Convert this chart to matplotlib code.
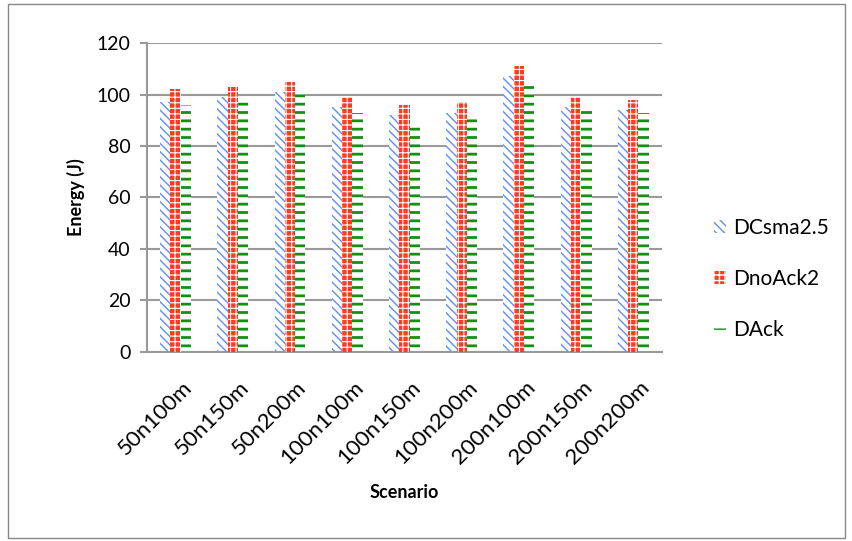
import matplotlib.pyplot as plt
import numpy as np
from matplotlib.patches import Rectangle
from matplotlib.transforms import ScaledTranslation

scenarios = ["50n100m", "50n150m", "50n200m", "100n100m", "100n150m",
             "100n200m", "200n100m", "200n150m", "200n200m"]
dcsma = [97, 99, 101, 95, 92, 93, 107, 95, 94]
dnoack = [102, 103, 105, 99, 96, 97, 111, 99, 98]
dack = [96, 97, 100.5, 93, 89, 92, 105, 94, 93]

plt.rcParams['font.family'] = ['Lato', 'DejaVu Sans']

fig = plt.figure(figsize=(8.53, 5.41), dpi=100)
ax = fig.add_axes([0.1723, 0.3494, 0.6037, 0.5711])

x = np.arange(len(scenarios))
w = 0.18
with plt.rc_context({'hatch.linewidth': 1.0}):
    ax.bar(x - w, dcsma, w, facecolor="white", edgecolor="#5b8ff0", hatch="\\\\\\\\",
           linewidth=0, label="DCsma2.5", zorder=2)
with plt.rc_context({'hatch.linewidth': 2.0}):
    ax.bar(x + w, dack, w, facecolor="white", edgecolor="#139013", hatch="--",
           linewidth=0, label="DAck", zorder=2)
with plt.rc_context({'hatch.linewidth': 0.8}):
    ax.bar(x, dnoack, w, facecolor="#ff3a22", edgecolor="white", hatch="+++",
           linewidth=0, label="DnoAck2", zorder=3)

ax.set_xlim(-0.5, len(scenarios) - 0.5)
ax.set_ylim(0, 120)
ax.set_yticks(range(0, 121, 20))
ax.grid(axis="y", color="#999999", linewidth=1.5, zorder=0)
ax.set_axisbelow(True)
for s in ["top", "right"]:
    ax.spines[s].set_visible(False)
for s in ["left", "bottom"]:
    ax.spines[s].set_color("#999999")
    ax.spines[s].set_linewidth(1.5)
ax.tick_params(axis="x", length=0, pad=18)
ax.tick_params(axis="y", length=5, width=1.5, color="#999999", labelsize=14, pad=7)
ax.set_xticks(x)
ax.set_xticklabels(scenarios, rotation=45, ha="right", va="top",
                   rotation_mode="anchor", fontsize=16)
for lab in ax.get_xticklabels():
    lab.set_transform(lab.get_transform() + ScaledTranslation(0.06, 0, fig.dpi_scale_trans))
ax.set_ylabel("Energy (J)", fontsize=13, fontweight="bold", labelpad=8)
ax.set_xlabel("Scenario", fontsize=13, fontweight="bold", labelpad=12)

h, l = ax.get_legend_handles_labels()
order = [0, 2, 1]
fig.legend([h[i] for i in order], [l[i] for i in order],
           loc="center left", bbox_to_anchor=(0.815, 0.484), frameon=False,
           fontsize=15, handlelength=0.6, handleheight=0.6, labelspacing=1.5,
           handletextpad=0.3)

fig.patches.append(Rectangle((0.009, 0.006), 0.982, 0.986, transform=fig.transFigure,
                             fill=False, edgecolor="#888888", linewidth=1))

fig.savefig("out.png", dpi=100)
